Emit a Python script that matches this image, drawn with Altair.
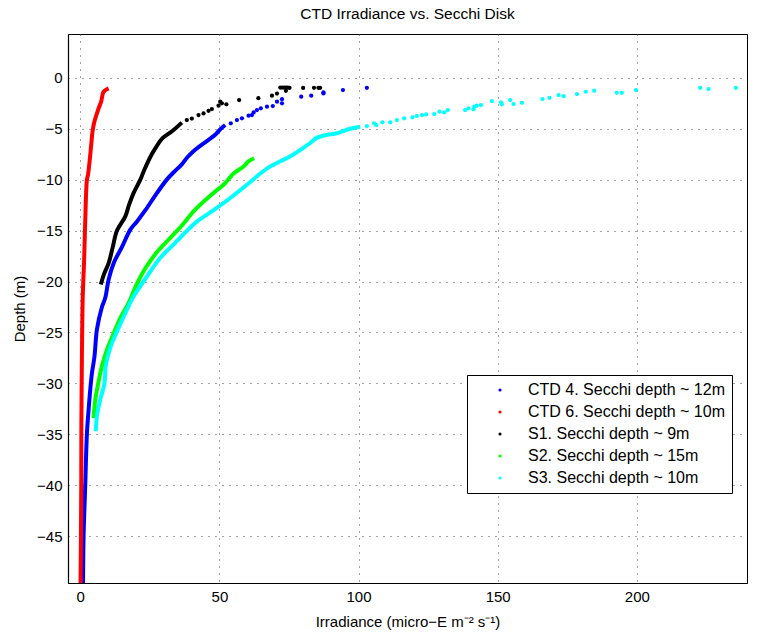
import altair as alt
import pandas as pd

series_names = [
    "CTD 4. Secchi depth ~ 12m",
    "CTD 6. Secchi depth ~ 10m",
    "S1. Secchi depth ~ 9m",
    "S2. Secchi depth ~ 15m",
    "S3. Secchi depth ~ 10m",
]
series_colors = ["#0000ff", "#ff0000", "#000000", "#00ff00", "#00ffff"]

x_ticks = [0, 50, 100, 150, 200]
y_ticks = [-45, -40, -35, -30, -25, -20, -15, -10, -5, 0]

# ---- CTD 4 (blue) ----
ctd4_prof_irr = [1.0, 1.2, 1.8, 2.4, 3.0, 3.6, 4.2, 5.1, 6.0, 7.8, 9.0, 10.2, 12.0, 15.0, 18.0,
                 20.4, 23.4, 27.6, 31.1, 33.5, 36.5, 38.5, 40.7, 43.5, 46.1, 48.5, 50.3, 52.1]
ctd4_prof_depth = [-49.6, -45.0, -40.0, -34.9, -32.6, -30.6, -29.0, -27.4, -24.7, -22.5, -21.6, -19.8,
                   -18.2, -16.6, -14.9, -14.1, -13.0, -11.3, -10.0, -9.3, -8.5, -7.8, -7.2, -6.6,
                   -6.1, -5.6, -5.06, -4.64]
ctd4_pts_irr = [54.1, 56.3, 58.1, 60.5, 61.7, 62.3, 63.5, 64.9, 67.1, 69.2, 70.7, 72.5, 72.5,
                79.4, 83.0, 87.4, 87.4, 94.4, 103.0]
ctd4_pts_depth = [-4.47, -4.15, -3.98, -3.72, -3.66, -3.4, -3.17, -3.0, -2.84, -2.77, -2.35, -2.1,
                  -2.5, -1.86, -1.76, -1.43, -1.53, -1.2, -0.98]

# ---- CTD 6 (red) ----
ctd6_prof_irr = [0.1, 0.25, 0.36, 0.4, 0.6, 0.9, 1.4, 1.8, 2.4, 2.8, 3.4, 4.0, 4.4, 5.1, 6.0,
                 6.8, 7.5, 8.4, 10.2]
ctd6_prof_depth = [-49.6, -45.0, -40.0, -34.5, -27.4, -21.5, -17.9, -14.0, -10.0, -9.5, -8.1,
                   -6.4, -5.3, -4.3, -3.5, -2.84, -2.35, -1.37, -1.04]

# ---- S1 (black) ----
s1_prof_irr = [7.4, 8.5, 10.2, 11.7, 13.2, 16.2, 17.5, 19.2, 21.6, 23.0, 25.6, 27.5, 29.5, 33.2, 36.5]
s1_prof_depth = [-20.3, -19.3, -18.2, -16.6, -15.0, -13.6, -12.5, -11.3, -10.0, -9.05, -7.55, -6.7,
                 -5.95, -5.2, -4.4]
s1_pts_irr = [38.3, 40.1, 42.5, 44.3, 46.1, 47.3, 49.7, 50.3, 50.9, 52.5, 57.1, 64.0, 68.9, 70.7,
              71.9, 72.6, 73.3, 74.0, 74.6, 73.9, 75.2, 80.1, 84.0, 85.6, 86.2]
s1_pts_depth = [-4.15, -4.0, -3.66, -3.5, -3.24, -3.07, -2.74, -2.35, -2.5, -2.6, -2.19, -2.0,
                -1.76, -1.55, -0.96, -0.96, -0.96, -0.96, -0.96, -1.28, -0.98, -1.0, -0.98,
                -0.98, -0.98]

# ---- S2 (green) ----
s2_prof_irr = [4.8, 5.4, 6.4, 7.8, 9.6, 12.0, 14.4, 17.4, 20.4, 23.4, 27.6, 31.7, 36.2, 41.3,
               47.9, 51.5, 55.1, 58.7, 60.5, 62.5]
s2_prof_depth = [-33.4, -31.6, -30.1, -28.3, -26.7, -25.1, -23.6, -22.1, -20.2, -18.7, -17.1,
                 -15.9, -14.6, -12.95, -11.3, -10.5, -9.4, -8.7, -8.2, -7.9]

# ---- S3 (cyan) ----
s3_prof_irr = [5.6, 6.0, 7.2, 8.7, 9.2, 10.8, 13.2, 16.2, 19.2, 24.0, 28.7, 34.1, 35.9, 41.3,
               47.9, 53.9, 59.9, 64.7, 68.3, 71.9, 75.5, 79.0, 82.6, 85.0, 88.6, 92.2, 97.0, 100.6]
s3_prof_depth = [-34.7, -33.2, -31.6, -30.0, -28.2, -26.5, -24.9, -23.1, -21.45, -19.5, -17.7,
                 -16.2, -15.7, -14.25, -13.0, -11.8, -10.5, -9.4, -8.7, -8.2, -7.7, -7.1, -6.4,
                 -5.9, -5.6, -5.45, -5.0, -4.8]
s3_pts_irr = [103.0, 105.6, 106.4, 108.6, 111.4, 113.8, 116.4, 119.4, 121.0, 122.8, 124.3, 127.2,
              129.1, 130.8, 132.1, 138.3, 139.5, 141.3, 141.6, 142.5, 144.0, 147.9, 151.2, 151.5,
              154.5, 155.7, 158.7, 166.1, 168.6, 171.9, 173.7, 178.5, 181.7, 184.7, 192.8, 194.6,
              199.7, 222.8, 225.8, 235.6]
s3_pts_depth = [-4.74, -4.47, -4.64, -4.37, -4.37, -4.15, -3.98, -3.88, -3.75, -3.66, -3.6, -3.56,
                -3.33, -3.4, -3.17, -3.17, -3.0, -3.1, -2.84, -2.74, -2.68, -2.28, -2.41, -2.6,
                -2.19, -2.58, -2.45, -2.09, -1.96, -1.7, -1.8, -1.6, -1.37, -1.27, -1.47, -1.47,
                -1.2, -0.98, -1.1, -0.98]

profiles = [
    (series_names[0], ctd4_prof_irr, ctd4_prof_depth),
    (series_names[1], ctd6_prof_irr, ctd6_prof_depth),
    (series_names[2], s1_prof_irr, s1_prof_depth),
    (series_names[3], s2_prof_irr, s2_prof_depth),
    (series_names[4], s3_prof_irr, s3_prof_depth),
]
surface_pts = [
    (series_names[0], ctd4_pts_irr, ctd4_pts_depth),
    (series_names[2], s1_pts_irr, s1_pts_depth),
    (series_names[4], s3_pts_irr, s3_pts_depth),
]

line_rows = []
for name, xs, ys in profiles:
    for i, (a, b) in enumerate(zip(xs, ys)):
        line_rows.append({"series": name, "irr": a, "depth": b, "idx": i})
pt_rows = []
for name, xs, ys in surface_pts:
    for a, b in zip(xs, ys):
        pt_rows.append({"series": name, "irr": a, "depth": b})

line_df = pd.DataFrame(line_rows)
pt_df = pd.DataFrame(pt_rows)

FONT = "Liberation Sans"

x_enc = alt.X(
    "irr:Q",
    scale=alt.Scale(domain=[-4.4, 239.6], nice=False, zero=False),
    axis=alt.Axis(
        values=x_ticks,
        title="Irradiance (micro\u2212E m\u207b\u00b2 s\u207b\u00b9)",
        titlePadding=10,
    ),
)
y_enc = alt.Y(
    "depth:Q",
    scale=alt.Scale(domain=[-49.6, 4.3], nice=False, zero=False),
    axis=alt.Axis(values=y_ticks, title="Depth (m)", titlePadding=9),
)

lines = alt.Chart(line_df).mark_line(strokeWidth=4, clip=True, interpolate="catmull-rom").encode(
    x=x_enc,
    y=y_enc,
    stroke=alt.Stroke("series:N", scale=alt.Scale(domain=series_names, range=series_colors),
                      legend=None),
    detail="series:N",
    order=alt.Order("idx:Q"),
)

points = alt.Chart(pt_df).mark_circle(size=18, opacity=1, clip=True).encode(
    x=x_enc,
    y=y_enc,
    color=alt.Color(
        "series:N",
        scale=alt.Scale(domain=series_names, range=series_colors),
        legend=alt.Legend(
            title=None,
            orient="none",
            legendX=399,
            legendY=341,
            strokeColor="black",
            fillColor="white",
            padding=7,
            symbolType="circle",
            symbolSize=10,
            symbolOffset=18,
            labelOffset=20,
            labelFontSize=16,
            labelFont=FONT,
            labelColor="black",
            labelLimit=400,
            rowPadding=6,
        ),
    ),
)

chart = (
    alt.layer(lines, points)
    .resolve_scale(color="independent", stroke="independent")
    .properties(
        width=679,
        height=549,
        title=alt.TitleParams(
            "CTD Irradiance vs. Secchi Disk",
            font=FONT,
            fontSize=15.5,
            fontWeight="normal",
            color="black",
            offset=12,
        ),
        autosize=alt.AutoSizeParams(type="none"),
        padding={"left": 68, "top": 34, "right": 17, "bottom": 54},
    )
    .configure_view(stroke="black", strokeWidth=1)
    .configure_axis(
        domainColor="black",
        domainWidth=1.2,
        tickSize=0,
        labelFont=FONT,
        labelFontSize=15,
        labelColor="black",
        labelPadding=6,
        titleFont=FONT,
        titleFontSize=15,
        titleFontWeight="normal",
        titleColor="black",
        grid=True,
        gridColor="#444444",
        gridDash=[1, 6],
        gridWidth=1,
        gridOpacity=1,
    )
)

chart.save("out.html", embed_options={"renderer": "svg", "actions": False})
